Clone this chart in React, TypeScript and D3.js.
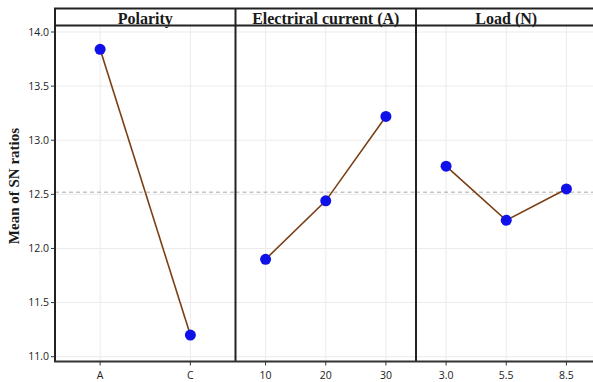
import React from "react";
import * as d3 from "d3";

const panelTitles = ["Polarity", "Electriral current (A)", "Load (N)"];
const polarityLevels = ["A", "C"];
const polarityValues = [13.84, 11.2];
const currentLevels = ["10", "20", "30"];
const currentValues = [11.9, 12.44, 13.22];
const loadLevels = ["3.0", "5.5", "8.5"];
const loadValues = [12.76, 12.26, 12.55];
const yTicks = [11.0, 11.5, 12.0, 12.5, 13.0, 13.5, 14.0];
const grandMean = 12.52;

const W = 593;
const H = 382;
const left = 55;
const panelW = 180.5;
const stripTop = 8.5;
const panelTop = 25.5;
const panelBottom = 361.5;

export default function App() {
  const panels = [
    { title: panelTitles[0], levels: polarityLevels, values: polarityValues },
    { title: panelTitles[1], levels: currentLevels, values: currentValues },
    { title: panelTitles[2], levels: loadLevels, values: loadValues },
  ];
  const y = d3.scaleLinear().domain([11.0, 14.0]).range([356.7, 32]);
  const serif = "'Liberation Serif', 'Times New Roman', serif";
  const sans = "'Open Sans', 'DejaVu Sans', sans-serif";

  return (
    <svg width={W} height={H} style={{ position: "absolute", left: 0, top: 0, background: "#fff" }}>
      <rect x={0} y={0} width={W} height={H} fill="#fff" />
      {panels.map((p, i) => {
        const x0 = left + i * panelW;
        const x = d3.scalePoint<string>().domain(p.levels).range([x0, x0 + panelW]).padding(0.5);
        const line = d3
          .line<number>()
          .x((_, j) => x(p.levels[j]) as number)
          .y((v) => y(v));
        return (
          <g key={i}>
            {yTicks.map((t) => (
              <line key={"h" + t} x1={x0} x2={x0 + panelW} y1={y(t)} y2={y(t)} stroke="#ebebeb" strokeWidth={1} />
            ))}
            {p.levels.map((l) => (
              <line key={"v" + l} x1={x(l)} x2={x(l)} y1={panelTop} y2={panelBottom} stroke="#ebebeb" strokeWidth={1} />
            ))}
            <line x1={x0} x2={x0 + panelW} y1={y(grandMean)} y2={y(grandMean)} stroke="#aaaaaa" strokeWidth={1} strokeDasharray="4,3" />
            <path d={line(p.values) || ""} fill="none" stroke="#7B3F14" strokeWidth={1.6} />
            {p.values.map((v, j) => (
              <circle key={j} cx={x(p.levels[j])} cy={y(v)} r={5.5} fill="#1010E8" />
            ))}
            {p.levels.map((l) => (
              <g key={"t" + l}>
                <line x1={x(l)} x2={x(l)} y1={panelBottom} y2={panelBottom + 4} stroke="#333" strokeWidth={1} />
                <text x={x(l)} y={379} textAnchor="middle" fontFamily={sans} fontSize={10.5} fill="#222">
                  {l}
                </text>
              </g>
            ))}
            <text x={x0 + panelW / 2} y={23.5} textAnchor="middle" fontFamily={serif} fontWeight="bold" fontSize={16} fill="#1a1a1a">
              {p.title}
            </text>
            <line x1={x0} x2={x0} y1={stripTop} y2={panelBottom} stroke="#222" strokeWidth={2} />
          </g>
        );
      })}
      <line x1={left - 1} x2={W} y1={stripTop} y2={stripTop} stroke="#222" strokeWidth={2} />
      <line x1={left - 1} x2={W} y1={panelTop} y2={panelTop} stroke="#222" strokeWidth={2} />
      <line x1={left - 1} x2={W} y1={panelBottom} y2={panelBottom} stroke="#333" strokeWidth={2} />
      {yTicks.map((t) => (
        <g key={"y" + t}>
          <line x1={left - 4} x2={left} y1={y(t)} y2={y(t)} stroke="#333" strokeWidth={1} />
          <text x={left - 6} y={y(t)} dy="0.35em" textAnchor="end" fontFamily={sans} fontSize={10.5} fill="#222">
            {t.toFixed(1)}
          </text>
        </g>
      ))}
      <text
        transform={`translate(19, 186) rotate(-90)`}
        textAnchor="middle"
        fontFamily={serif}
        fontWeight="bold"
        fontSize={15}
        fill="#1a1a1a"
      >
        Mean of SN ratios
      </text>
    </svg>
  );
}
